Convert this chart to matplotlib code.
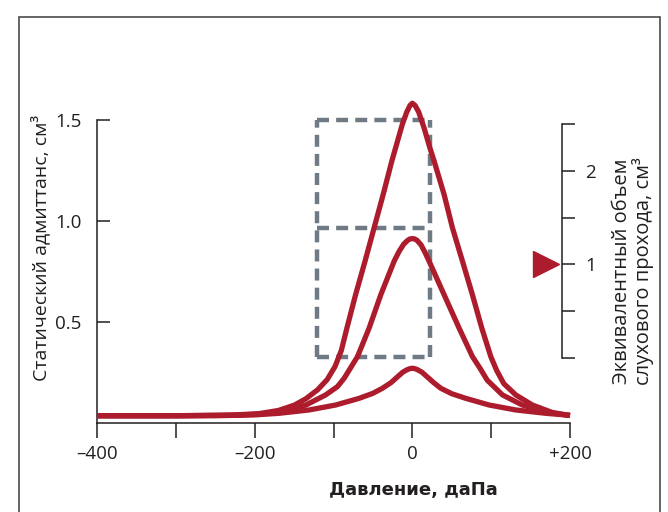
import numpy as np
from matplotlib import pyplot as plt
from matplotlib import patches as mpatches
from matplotlib import transforms as mtrans

plt.rcParams['font.family'] = ['Open Sans', 'DejaVu Sans']

# --- data (pressure, daPa / admittance, cm3) ---
big_x = [-400, -300, -230, -195, -170, -150, -135, -120, -108, -98, -90, -83, -72, -60,
         -48.5, -37, -26, -12.6, -7, -3, 0, 3.5, 8, 14.8, 22.2, 27.6, 40.3, 50.9, 63.6, 76.2,
         88.1, 99.5, 107, 116, 131.2, 152.3, 177.6, 200]
big_y = [0.036, 0.036, 0.039, 0.046, 0.062, 0.088, 0.12, 0.165, 0.215, 0.28, 0.36, 0.47, 0.635, 0.801,
         0.966, 1.131, 1.297, 1.48, 1.54, 1.572, 1.583, 1.572, 1.54, 1.462, 1.363, 1.297, 1.131, 0.966,
         0.801, 0.635, 0.470, 0.329, 0.26, 0.195, 0.139, 0.089, 0.052, 0.037]

mid_x = [-400, -300, -220, -190, -169, -150, -135, -110, -95, -86.4, -69.5, -54.8, -40, -23.1,
         -17, -11, -6, -3, 0, 3, 6, 11, 16, 21.3, 40.3, 59.3, 76.2, 86, 95, 114.3, 139.6, 169.2, 200]
mid_y = [0.036, 0.036, 0.039, 0.046, 0.056, 0.072, 0.089, 0.139, 0.18, 0.222, 0.329, 0.470, 0.635, 0.801,
         0.848, 0.885, 0.904, 0.911, 0.913, 0.911, 0.904, 0.882, 0.845, 0.801, 0.635, 0.470, 0.329, 0.27,
         0.212, 0.139, 0.089, 0.054, 0.037]

small_x = [-400, -250, -200, -169, -131, -97.3, -67.5, -50, -37.9, -27, -19, -12, -6, -3, 0,
           3, 6, 12, 19, 27, 36.1, 50, 67.8, 97.4, 131.2, 169.2, 200]
small_y = [0.036, 0.036, 0.040, 0.048, 0.0645, 0.089, 0.122, 0.147, 0.172, 0.2, 0.228, 0.252, 0.265,
           0.269, 0.271, 0.269, 0.265, 0.252, 0.228, 0.2, 0.172, 0.145, 0.122, 0.089, 0.0645, 0.048, 0.038]

# dashed frame (left axis units)
box_x = [-120.4, 22.2]
box_y = [0.329, 0.966, 1.499]   # bottom, middle, top

x_major = [-400, -200, 0, 200]
x_labels = ['\u2013400', '\u2013200', '0', '+200']
x_minor = [-300, -100, 100]
y_ticks = [0.5, 1.0, 1.5]
y_labels = ['0.5', '1.0', '1.5']

vol_ticks = [0, 0.5, 1.0, 1.5, 2.0, 2.5]
vol_labels = ['', '', '1', '', '2', '']
vol_marker = 1.0

red = '#ad1c2c'
grey = '#6f7a84'
ink = '#231f20'

fig = plt.figure(figsize=(6.68, 5.12), dpi=100)

# outer frame
fig.patches.append(mpatches.Rectangle((19/668, -0.05), 641/668, 0.05 + 495/512,
                                      transform=fig.transFigure, fill=False,
                                      edgecolor='#4a4a4a', linewidth=1.2))

ax = fig.add_axes([97/668, 89/512, 473/668, 303/512])
ax.set_xlim(-400, 200)
ax.set_ylim(0, 1.5)
for s in ['top', 'right']:
    ax.spines[s].set_visible(False)
ax.spines['left'].set_bounds(0, 1.5)
for s in ['left', 'bottom']:
    ax.spines[s].set_linewidth(1.1)
    ax.spines[s].set_color(ink)
ax.patch.set_alpha(0)

ax.set_xticks(x_major)
ax.set_xticklabels(x_labels)
ax.set_xticks(x_minor, minor=True)
ax.tick_params(axis='x', which='both', direction='out', length=11, width=1.1,
               color=ink, pad=5, labelsize=13.5, labelcolor=ink)
ax.set_yticks(y_ticks)
ax.set_yticklabels(y_labels)
ax.tick_params(axis='y', direction='in', length=9, width=1.1, color=ink,
               pad=11, labelsize=13.5, labelcolor=ink)

# dashed box
dash_kw = dict(color=grey, linewidth=3.2, dashes=(2.7, 1.6), zorder=2, clip_on=False)
ax.plot([box_x[0], box_x[0]], [box_y[0], box_y[2]], **dash_kw)
ax.plot([box_x[1], box_x[1]], [box_y[0], box_y[2]], **dash_kw)
for yy in box_y:
    ax.plot(box_x, [yy, yy], **dash_kw)

for xs, ys in [(big_x, big_y), (mid_x, mid_y), (small_x, small_y)]:
    ax.plot(xs, ys, color=red, linewidth=3.8, solid_joinstyle='round',
            solid_capstyle='butt', zorder=3, clip_on=False)

# right axis (ear canal volume)
ax2 = fig.add_axes([500/668, 154.3/512, 61.7/668, 233.4/512])
ax2.patch.set_alpha(0)
ax2.set_xlim(0, 1)
ax2.set_ylim(0, 2.5)
for s in ['top', 'left', 'bottom']:
    ax2.spines[s].set_visible(False)
ax2.spines['right'].set_linewidth(1.1)
ax2.spines['right'].set_color(ink)
ax2.set_xticks([])
ax2.yaxis.tick_right()
ax2.set_yticks(vol_ticks)
ax2.set_yticklabels(vol_labels)
ax2.tick_params(axis='y', direction='out', length=9, width=1.1, color=ink,
                pad=8, labelsize=13.5, labelcolor=ink)
tr = mtrans.blended_transform_factory(ax2.transAxes, ax2.transData)
ax2.plot([0.74], [vol_marker], marker='>', markersize=19, color=red,
         linestyle='none', transform=tr, clip_on=False)

fig.text(40/668, (512-248)/512, 'Статический адмиттанс, см³', rotation=90,
         ha='center', va='center', fontsize=14, color=ink)
fig.text(633/668, (512-271)/512, 'Эквивалентный объем\nслухового прохода, см³',
         rotation=90, ha='center', va='center', multialignment='center',
         fontsize=14.5, color=ink, linespacing=0.95)
fig.text(413/668, 22/512, 'Давление, даПа', ha='center', va='center',
         fontsize=13, fontweight='bold', family=['DejaVu Sans'], color=ink)

fig.savefig('out.png', dpi=100)
